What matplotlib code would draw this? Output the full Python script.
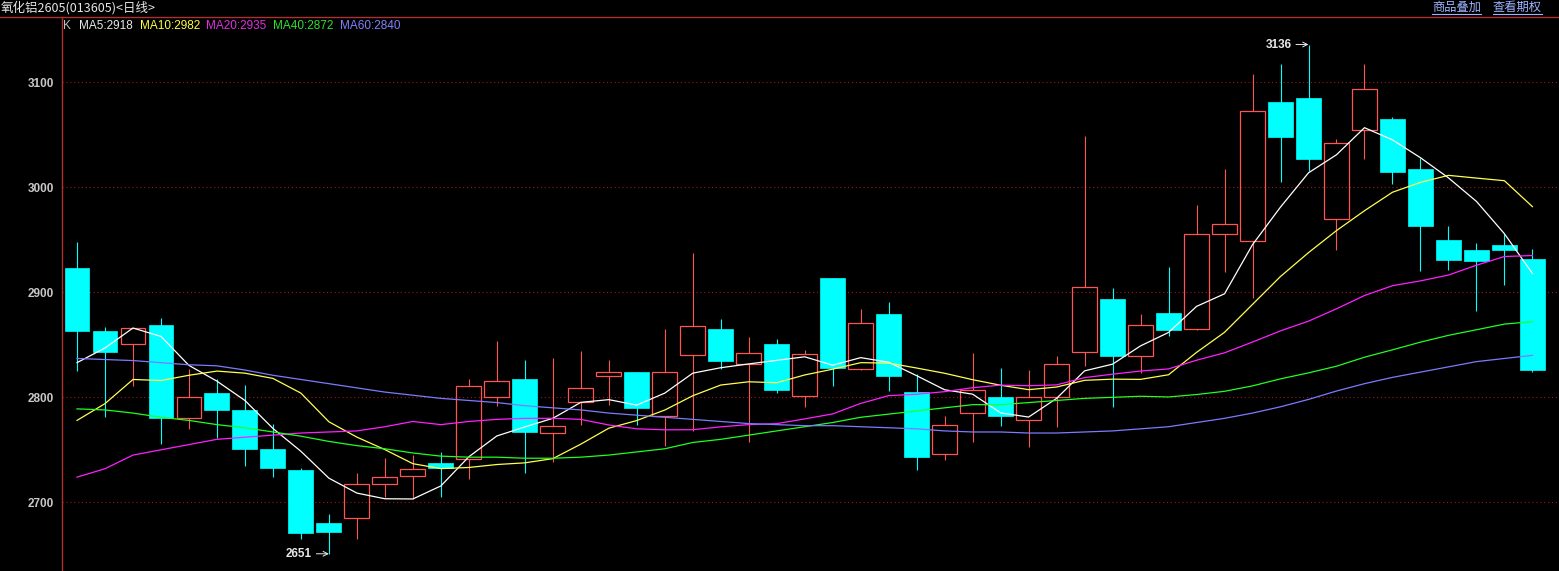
import pandas as pd
import matplotlib
matplotlib.use("Agg")
import matplotlib.pyplot as plt
from matplotlib.lines import Line2D

# 氧化铝2605 daily K-line, 53 sessions
opens = [2923, 2863, 2851, 2869, 2780, 2804, 2788, 2751, 2731, 2680,
         2685, 2717, 2725, 2737, 2741, 2800, 2817, 2766, 2796, 2820,
         2824, 2782, 2840, 2865, 2832, 2851, 2801, 2914, 2827, 2879,
         2805, 2746, 2785, 2800, 2778, 2800, 2843, 2894, 2839, 2880,
         2865, 2956, 2949, 3081, 3085, 2970, 3055, 3065, 3017, 2950,
         2940, 2945, 2932]
highs = [2948, 2867, 2866, 2876, 2827, 2817, 2812, 2775, 2733, 2689,
         2728, 2742, 2745, 2748, 2817, 2854, 2836, 2837, 2844, 2836,
         2824, 2865, 2937, 2875, 2857, 2856, 2845, 2914, 2884, 2891,
         2822, 2782, 2842, 2828, 2826, 2839, 3049, 2904, 2879, 2924,
         2983, 3017, 3108, 3117, 3136, 3046, 3117, 3067, 3028, 2963,
         2947, 2956, 2941]
lows = [2825, 2781, 2811, 2756, 2770, 2761, 2735, 2724, 2665, 2651,
        2665, 2705, 2703, 2705, 2722, 2792, 2728, 2738, 2774, 2793,
        2774, 2754, 2768, 2827, 2757, 2804, 2791, 2811, 2826, 2806,
        2731, 2740, 2757, 2773, 2753, 2772, 2830, 2791, 2823, 2858,
        2864, 2919, 2895, 3005, 3016, 2940, 3027, 3003, 2920, 2921,
        2882, 2907, 2824]
closes = [2863, 2843, 2866, 2780, 2800, 2788, 2751, 2733, 2671, 2672,
          2717, 2724, 2732, 2733, 2811, 2816, 2767, 2773, 2809, 2824,
          2790, 2824, 2868, 2835, 2842, 2807, 2841, 2828, 2871, 2820,
          2743, 2774, 2807, 2782, 2800, 2832, 2905, 2839, 2869, 2864,
          2956, 2965, 3073, 3048, 3027, 3042, 3094, 3015, 2963, 2931,
          2930, 2940, 2826]

# moving averages before enough bars exist on screen
ma5_head = [2833, 2847, 2866, 2858]
ma10_head = [2778, 2794, 2817, 2816, 2821, 2825, 2823, 2818, 2804]
ma20_head = [2724, 2732, 2745, 2750, 2755, 2760, 2762, 2764, 2766, 2767,
             2768, 2772, 2777, 2774, 2777, 2779, 2780, 2780, 2779]
ma40_head = [2789, 2788, 2785, 2781, 2778, 2774, 2771, 2767, 2763, 2758,
             2754, 2751, 2747, 2744, 2743, 2743, 2742, 2742, 2743, 2745,
             2748, 2751, 2757, 2760, 2764, 2768, 2772, 2776, 2781, 2784,
             2787, 2790, 2793, 2793, 2795, 2797, 2799, 2800, 2801]
ma60 = [2837, 2836, 2835, 2833, 2831, 2830, 2826, 2821, 2817, 2813,
        2809, 2805, 2802, 2799, 2797, 2795, 2792, 2790, 2788, 2785,
        2783, 2781, 2779, 2777, 2775, 2774, 2773, 2773, 2772, 2771,
        2770, 2768, 2767, 2767, 2766, 2766, 2767, 2768, 2770, 2772,
        2776, 2780, 2785, 2791, 2798, 2806, 2813, 2819, 2824, 2829,
        2834, 2837, 2840]

y_ticks = [2700, 2800, 2900, 3000, 3100]
title = "氧化铝2605(013605)<日线>"
links = ["商品叠加", "查看期权"]

UP = "#ff5454"
DOWN = "#00ffff"
AXIS_RED = "#b03030"
W, H = 1559, 571

close_s = pd.Series(closes, dtype=float)


def moving_average(n, head):
    ma = close_s.rolling(n).mean()
    ma.iloc[:n - 1] = head
    return ma


ma_lines = [
    ("MA5", moving_average(5, ma5_head), "#ffffff", "#e8e8e8"),
    ("MA10", moving_average(10, ma10_head), "#ffff50", "#ffff40"),
    ("MA20", moving_average(20, ma20_head), "#ff20ff", "#e030e0"),
    ("MA40", moving_average(40, ma40_head), "#20ff20", "#30e030"),
    ("MA60", pd.Series(ma60, dtype=float), "#7b7bff", "#8080ff"),
]

fig = plt.figure(figsize=(W / 100, H / 100), dpi=100, facecolor="black")
ax = fig.add_axes([62 / W, 0, (W - 62) / W, (H - 17) / H], facecolor="black")

# candles
x = list(range(len(closes)))
for i in x:
    o, h, l, c = opens[i], highs[i], lows[i], closes[i]
    lo, hi = min(o, c), max(o, c)
    if c >= o:
        ax.vlines(i, l, lo, color=UP, lw=0.8, zorder=2)
        ax.vlines(i, hi, h, color=UP, lw=0.8, zorder=2)
        ax.bar(i, hi - lo, bottom=lo, width=0.89, facecolor="none",
               edgecolor=UP, linewidth=0.9, zorder=2)
    else:
        ax.vlines(i, l, h, color=DOWN, lw=0.8, zorder=2)
        ax.bar(i, hi - lo, bottom=lo, width=0.89, facecolor=DOWN,
               edgecolor=DOWN, linewidth=0.5, zorder=2)

for name, ma, col, _ in ma_lines:
    ax.plot(x, ma.values, color=col, lw=0.9, zorder=3)

# extreme value markers
i_lo = lows.index(min(lows))
i_hi = highs.index(max(highs))
for idx, val in [(i_lo, lows[i_lo]), (i_hi, highs[i_hi])]:
    ax.annotate(f"{val}", xy=(idx, val), xytext=(-12, 0),
                textcoords="offset points", ha="right", va="center",
                color="#e8e8e8", fontsize=8.5, fontweight="bold",
                family=["Liberation Sans", "DejaVu Sans"],
                arrowprops=dict(arrowstyle="->", color="#e8e8e8", lw=0.7,
                                shrinkA=1, shrinkB=0), zorder=5)

ax.set_xlim(-0.536, 52.95)
ax.set_ylim(2634.6, 3162.2)
ax.set_xticks([])
ax.set_yticks(y_ticks)
ax.set_yticklabels([str(t) for t in y_ticks])
ax.tick_params(axis="y", length=0, pad=6, labelcolor="#c8c8c8", labelsize=8.5)
for lbl in ax.get_yticklabels():
    lbl.set_fontweight("bold")
    lbl.set_family("Liberation Sans")
ax.grid(axis="y", color="#a01515", linestyle=(0, (1, 2.5)), linewidth=0.8)
ax.set_axisbelow(True)
for side in ["top", "right", "bottom"]:
    ax.spines[side].set_visible(False)
ax.spines["left"].set_color(AXIS_RED)
ax.spines["left"].set_linewidth(1.0)

# header line and texts
fig.add_artist(Line2D([0, 1], [1 - 17 / H] * 2, transform=fig.transFigure,
                      color=AXIS_RED, lw=1.0))
fig.text(1 / W, 1 - 8 / H, title, color="#e6e6e6", fontsize=9, va="center",
         family=["Noto Sans CJK SC", "DejaVu Sans"])

link_x = [1432, 1493]
for lx, txt in zip(link_x, links):
    t = fig.text(lx / W, 1 - 7 / H, txt, color="#9db4ff", fontsize=8.8,
                 va="center", family=["Noto Sans CJK SC", "DejaVu Sans"])
    fig.add_artist(Line2D([lx / W, (lx + 49) / W], [1 - 13.5 / H] * 2,
                          transform=fig.transFigure, color="#9db4ff", lw=0.8))

legend_x = [79, 140, 206, 273, 340]
fig.text(63 / W, 1 - 26 / H, "K", color="#c0c0c0", fontsize=8.5, va="center",
         family="Liberation Sans")
for lx, (name, ma, _, tcol) in zip(legend_x, ma_lines):
    fig.text(lx / W, 1 - 26 / H, f"{name}:{ma.iloc[-1]:.0f}", color=tcol,
             fontsize=8.5, va="center", family="Liberation Sans")

fig.savefig("out.png", dpi=100, facecolor="black")
